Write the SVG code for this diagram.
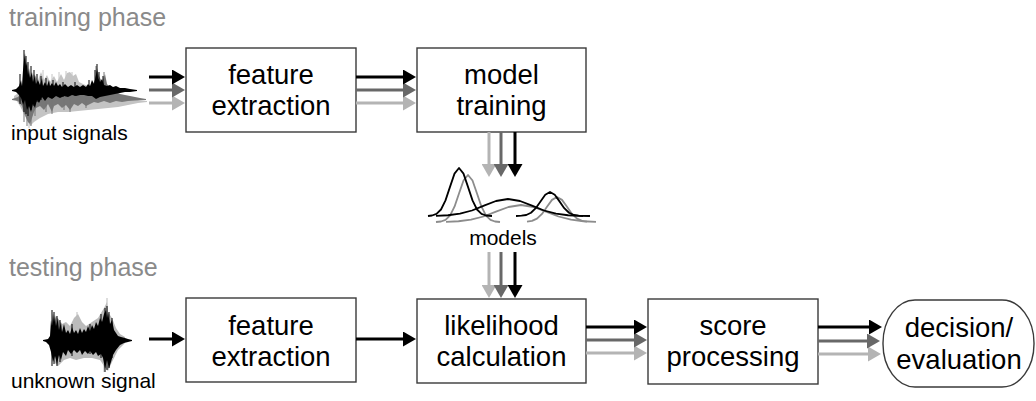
<svg xmlns="http://www.w3.org/2000/svg" width="1036" height="401" viewBox="0 0 1036 401">
  <style>
    .box { fill: #fff; stroke: #3a3a3a; stroke-width: 1.4; }
    .lbl { font-family: "Liberation Sans", Arial, sans-serif; font-size: 27.5px; fill: #000; text-anchor: middle; }
    .phase { font-family: "Liberation Sans", Arial, sans-serif; font-size: 25px; fill: #8a8a8a; }
    .cap { font-family: "Liberation Sans", Arial, sans-serif; font-size: 21px; fill: #000; }
    .k { stroke: #000; stroke-width: 3; fill: none; marker-end: url(#ah-k); }
    .d { stroke: #686868; stroke-width: 3; fill: none; marker-end: url(#ah-d); }
    .l { stroke: #b4b4b4; stroke-width: 3; fill: none; marker-end: url(#ah-l); }
    .gk { stroke: #000; stroke-width: 1.8; fill: none; stroke-linejoin: round; }
    .gg { stroke: #8c8c8c; stroke-width: 1.8; fill: none; stroke-linejoin: round; }
    .spk { fill: none; stroke-width: 1; }
  </style>
  <defs>
    <marker id="ah-k" markerUnits="userSpaceOnUse" viewBox="0 0 13 15" markerWidth="13" markerHeight="15" refX="3" refY="7.5" orient="auto">
      <path d="M0,0 L13,7.5 L0,15 z" fill="#000"/>
    </marker>
    <marker id="ah-d" markerUnits="userSpaceOnUse" viewBox="0 0 13 15" markerWidth="13" markerHeight="15" refX="3" refY="7.5" orient="auto">
      <path d="M0,0 L13,7.5 L0,15 z" fill="#686868"/>
    </marker>
    <marker id="ah-l" markerUnits="userSpaceOnUse" viewBox="0 0 13 15" markerWidth="13" markerHeight="15" refX="3" refY="7.5" orient="auto">
      <path d="M0,0 L13,7.5 L0,15 z" fill="#b4b4b4"/>
    </marker>
  </defs>

  <!-- phase headings -->
  <text class="phase" x="9" y="26">training phase</text>
  <text class="phase" x="9" y="276">testing phase</text>

  <!-- training input waveforms -->
  <g id="input-signals">
    <path fill="#c4c4c4" d="M14,96 L20,92 24,80 27,70 30,78 34,74 38,80 41,72 44,80 47,75 50,82 54,76 57,82 61,74 64,80 67,73 70,72 73,76 76,74 79,82 83,84 88,86 94,88 100,90 108,92 116,95 124,97 132,99 140,100.5 147,101 147,102 138,103 128,105 118,107 108,108 98,109 88,110 78,111 68,112 58,112 48,114 40,118 34,122 30,126 27,120 24,114 20,106 16,100 14,98 Z"/>
    <path class="spk" stroke="#c4c4c4" d="M43,70V90 M52,74V90 M59,72V90 M66,71V90 M72,72V90 M29,100V128"/>
    <path fill="#777" d="M12,99 L18,97 22,92 25,85 28,88 32,90 40,92 50,92 60,93 70,93 80,92 90,90 95,80 97,68 99,76 102,82 105,74 107,84 112,90 120,94 130,96 140,98 146,99 146,100 135,100.5 128,101 122,102 116,101 110,103 104,101 98,103 94,102 90,104 86,106 82,103 78,106 74,104 70,110 66,105 62,108 58,104 54,106 52,112 48,104 44,110 40,106 36,108 34,112 32,118 30,124 28,122 25,115 22,106 18,101 12,100 Z"/>
    <path class="spk" stroke="#777" d="M24,98V122 M27,98V126 M31,98V126 M35,98V116 M46,98V112 M52,98V114 M64,98V110 M70,98V112 M86,98V108 M96,66V90 M104,72V90"/>
    <path fill="#000" d="M12,90 L16,89 19,86 21,80 22,86 23,70 24,60 25,53 26,66 27,62 28,75 29,68 30,78 32,72 33,82 35,75 36,84 38,80 40,85 42,78 43,86 45,82 47,86 49,80 50,86 52,83 54,86 56,82 58,86 60,84 62,87 65,84 68,87 71,85 74,87 77,85 80,87 83,85 86,87 88,84 90,86 92,80 94,84 96,75 97,70 98,78 100,82 102,79 104,85 107,86 110,85 113,87 116,86 120,88 125,88 130,89 137,90 137,91 130,92 125,92 120,93 115,94 110,95 105,96 100,97 96,99 92,96 88,96 84,95 80,95 76,96 72,95 68,97 64,96 60,98 56,96 52,99 48,97 45,101 42,97 39,103 37,100 35,108 33,104 31,112 29,106 27,110 25,100 23,105 21,98 19,95 16,92 12,91 Z"/>
    <path class="spk" stroke="#000" d="M20,74V104 M24,50V112 M26,56V114 M28,62V116 M31,66V110 M34,70V106 M37,74V102 M41,76V100 M46,78V98 M53,80V98 M63,82V97 M75,82V96 M89,80V96 M95,70V97 M97,64V96 M99,72V96 M103,76V95"/>
    <text class="cap" x="11" y="140">input signals</text>
  </g>

  <!-- testing input waveform -->
  <g id="unknown-signal">
    <path fill="#bbbbbb" d="M50,338 L56,316 62,324 66,322 70,326 74,318 78,314 82,322 86,326 92,322 98,318 104,308 107,302 108,312 112,318 116,328 120,334 125,337 125,343 118,350 112,362 108,371 104,366 100,360 92,358 84,358 76,360 70,358 64,360 58,366 54,362 50,344 Z"/>
    <path class="spk" stroke="#bbbbbb" d="M107,298V340 M77,312V340 M104,340V372"/>
    <path fill="#000" d="M43,340 L48,339 50,336 51,320 52,326 53,313 54,322 55,315 56,326 58,318 59,330 61,322 62,332 64,324 66,333 68,330 70,334 72,327 74,333 76,330 78,334 80,328 82,333 84,329 86,332 88,326 90,331 92,325 94,329 96,322 98,326 100,318 102,322 104,314 106,310 107,318 108,313 110,324 112,320 114,330 116,333 118,336 121,337 125,338 128,339 132,340 132,341 128,342 124,343 120,345 116,350 113,355 111,362 109,368 107,360 105,369 103,358 101,354 98,356 96,352 93,355 90,351 88,354 85,351 82,355 80,350 77,353 74,350 71,354 68,350 66,356 63,352 61,360 59,355 57,364 55,356 53,362 51,352 49,345 46,342 43,341 Z"/>
    <path class="spk" stroke="#000" d="M52,310V366 M54,312V364 M57,316V366 M60,320V362 M72,324V356 M90,324V354 M101,314V358 M105,308V372 M107,306V370 M109,312V368 M112,318V358"/>
    <text class="cap" x="11" y="388">unknown signal</text>
  </g>

  <!-- processing blocks -->
  <g id="feature-extraction-train">
    <rect class="box" x="186" y="48" width="170" height="84"/>
    <text class="lbl" x="271" y="84">feature</text>
    <text class="lbl" x="271" y="115">extraction</text>
  </g>
  <g id="model-training">
    <rect class="box" x="417" y="48" width="169" height="84"/>
    <text class="lbl" x="501.5" y="84">model</text>
    <text class="lbl" x="501.5" y="115">training</text>
  </g>

  <!-- trained models: mixture components -->
  <g id="models">
    <polyline class="gg" points="436,222 441,221.5 445.5,219.9 450,215.6 454.5,206.7 459,193.5 463.5,180.5 468,175 472.5,180.5 477,193.5 481.5,206.7 486,215.6 490.5,219.9 495,221.5 500,222"/>
    <polyline class="gg" points="446,221.8 458.5,221.25 471,219.7 483.5,216.5 496,211.7 508.5,207 521,205 533.5,207 546,211.7 558.5,216.5 571,219.7 583.5,221.25 596,221.8"/>
    <polyline class="gg" points="527,221.7 532,220.9 537,218.6 542,213.9 547,206.8 552,199.9 557,197 562,199.9 567,206.8 572,213.9 577,218.6 582,220.9 587,221.7"/>
    <polyline class="gk" points="428,216 432,215.5 436.5,213.9 441,209.5 445.5,200.4 450,186.9 454.5,173.6 459,168 463.5,173.6 468,186.9 472.5,200.4 477,209.5 481.5,213.9 486,215.5 492,216"/>
    <polyline class="gk" points="436,215.8 448,215.25 460,213.7 472,210.5 484,205.7 496,201 508,199 520,201 532,205.7 544,210.5 556,213.7 568,215.25 580,215.8 590,216"/>
    <polyline class="gk" points="516,216 521.5,215.7 526.25,215 531,212.75 535.75,208.2 540.5,201.4 545.25,194.8 550,192 554.75,194.8 559.5,201.4 564.25,208.2 569,212.75 573.75,215 578.5,215.7 583,216"/>
    <text class="cap" x="503" y="245" text-anchor="middle">models</text>
  </g>

  <g id="feature-extraction-test">
    <rect class="box" x="186" y="298" width="170" height="84"/>
    <text class="lbl" x="271" y="335">feature</text>
    <text class="lbl" x="271" y="366">extraction</text>
  </g>
  <g id="likelihood-calculation">
    <rect class="box" x="417" y="299" width="169" height="84"/>
    <text class="lbl" x="501.5" y="335">likelihood</text>
    <text class="lbl" x="501.5" y="366">calculation</text>
  </g>
  <g id="score-processing">
    <rect class="box" x="648" y="299" width="170" height="85"/>
    <text class="lbl" x="733" y="335">score</text>
    <text class="lbl" x="733" y="366">processing</text>
  </g>
  <g id="decision">
    <rect class="box" x="883" y="300" width="151" height="87" rx="32" ry="43"/>
    <text class="lbl" x="959" y="337">decision/</text>
    <text class="lbl" x="959" y="369">evaluation</text>
  </g>

  <!-- connectors -->
  <g id="connectors">
    <!-- signals -> feature extraction (training) -->
    <line class="l" x1="149" y1="103" x2="175" y2="103"/>
    <line class="d" x1="149" y1="90" x2="175" y2="90"/>
    <line class="k" x1="149" y1="77" x2="175" y2="77"/>
    <!-- feature extraction -> model training -->
    <line class="l" x1="356" y1="103" x2="406" y2="103"/>
    <line class="d" x1="356" y1="90" x2="406" y2="90"/>
    <line class="k" x1="356" y1="77" x2="406" y2="77"/>
    <!-- model training -> models -->
    <line class="l" x1="489" y1="132" x2="489" y2="167"/>
    <line class="d" x1="501" y1="132" x2="501" y2="167"/>
    <line class="k" x1="515" y1="132" x2="515" y2="167"/>
    <!-- models -> likelihood calculation -->
    <line class="l" x1="489" y1="252" x2="489" y2="288"/>
    <line class="d" x1="501" y1="252" x2="501" y2="288"/>
    <line class="k" x1="515" y1="252" x2="515" y2="288"/>
    <!-- unknown signal -> feature extraction (testing) -->
    <line class="k" x1="149" y1="339" x2="175" y2="339"/>
    <!-- feature extraction -> likelihood calculation -->
    <line class="k" x1="356" y1="339" x2="406" y2="339"/>
    <!-- likelihood calculation -> score processing -->
    <line class="l" x1="586" y1="353" x2="637" y2="353"/>
    <line class="d" x1="586" y1="340" x2="637" y2="340"/>
    <line class="k" x1="586" y1="327" x2="637" y2="327"/>
    <!-- score processing -> decision -->
    <line class="l" x1="818" y1="354" x2="871" y2="354"/>
    <line class="d" x1="818" y1="341" x2="870" y2="341"/>
    <line class="k" x1="818" y1="327" x2="872" y2="327"/>
  </g>
</svg>
